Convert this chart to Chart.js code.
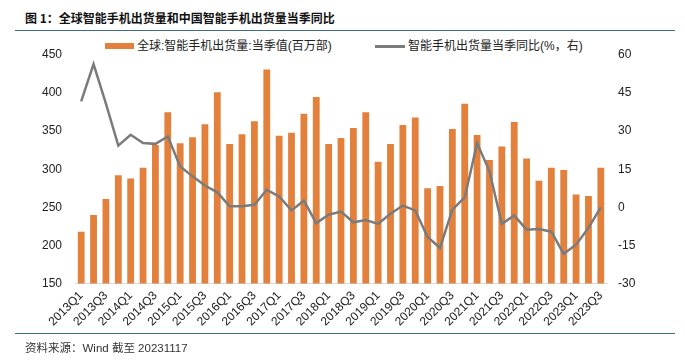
<!DOCTYPE html>
<html>
<head>
<meta charset="utf-8">
<script src="https://cdn.jsdelivr.net/npm/chart.js@4.4.0/dist/chart.umd.min.js"></script>
<style>
  html, body { margin: 0; padding: 0; background: #fff; }
  #wrap { position: relative; width: 685px; height: 364px; overflow: hidden; font-family: "Liberation Sans", "Noto Sans CJK SC", Arial, sans-serif; color: #222; }
  #c { position: absolute; left: 0; top: 0; }
  .title { position: absolute; left: 25px; top: 9px; font-size: 12px; font-weight: bold; color: #111; white-space: nowrap; font-family: "Noto Sans CJK SC", sans-serif; }
  .hline { position: absolute; left: 15px; width: 660px; height: 1px; background: #3d6f80; }
  .foot { position: absolute; left: 25px; top: 339px; font-size: 11.5px; color: #333; white-space: nowrap; }
  .leg { position: absolute; font-size: 12px; color: #222; white-space: nowrap; line-height: 14px; }
  .legbar { position: absolute; left: 105px; top: 43px; width: 29px; height: 6px; background: #E2803C; }
  .legline { position: absolute; left: 375px; top: 45px; width: 30px; height: 2.5px; background: #7b7b7b; }
</style>
</head>
<body>
<div id="wrap">
  <div class="title">图 1：全球智能手机出货量和中国智能手机出货量当季同比</div>
  <div class="hline" style="top:30px"></div>
  <div class="legbar"></div>
  <div class="leg" style="left:137px; top:39px;">全球:智能手机出货量:当季值(百万部)</div>
  <div class="legline"></div>
  <div class="leg" style="left:408px; top:39px;">智能手机出货量当季同比(%，右)</div>
  <canvas id="c" width="685" height="364"></canvas>
  <div class="hline" style="top:333px"></div>
  <div class="foot">资料来源：Wind 截至 20231117</div>
</div>
<script>
const quarters = [
  "2013Q1","2013Q2","2013Q3","2013Q4",
  "2014Q1","2014Q2","2014Q3","2014Q4",
  "2015Q1","2015Q2","2015Q3","2015Q4",
  "2016Q1","2016Q2","2016Q3","2016Q4",
  "2017Q1","2017Q2","2017Q3","2017Q4",
  "2018Q1","2018Q2","2018Q3","2018Q4",
  "2019Q1","2019Q2","2019Q3","2019Q4",
  "2020Q1","2020Q2","2020Q3","2020Q4",
  "2021Q1","2021Q2","2021Q3","2021Q4",
  "2022Q1","2022Q2","2022Q3","2022Q4",
  "2023Q1","2023Q2","2023Q3"
];
// 全球:智能手机出货量:当季值(百万部)
const globalShipments = [
  218, 240, 261, 292,
  288, 302, 332, 375,
  334, 342, 359, 401,
  333, 346, 363, 431,
  344, 348, 373, 395,
  333, 341, 354, 375,
  310, 333, 358, 368,
  275, 278, 353, 386,
  345, 312, 330, 362,
  314, 285, 302, 299,
  267, 265, 302
];
// 智能手机出货量当季同比(%，右)
const chinaYoY = [
  41.7, 56.4, 40.8, 24.3,
  28.6, 25.3, 25.0, 27.9,
  16.1, 12.2, 8.6, 5.9,
  0.4, 0.4, 1.0, 6.9,
  4.3, -1.2, 2.6, -6.2,
  -2.9, -1.7, -5.9, -5.0,
  -6.5, -2.5, 0.7, -1.2,
  -11.7, -16.0, -0.9, 3.9,
  25.3, 14.2, -6.5, -3.2,
  -8.8, -8.5, -9.6, -18.3,
  -14.7, -8.1, 0.0
];
const leftTicks = { min: 150, max: 450, step: 50 };
const rightTicks = { min: -30, max: 60, step: 15 };

const FONT = "'Liberation Sans', 'Noto Sans CJK SC', Arial, sans-serif";

new Chart(document.getElementById('c'), {
  type: 'bar',
  data: {
    labels: quarters,
    datasets: [
      {
        type: 'line',
        label: '智能手机出货量当季同比(%，右)',
        data: chinaYoY,
        yAxisID: 'y1',
        borderColor: '#7b7b7b',
        borderWidth: 2.5,
        pointRadius: 0,
        tension: 0,
        fill: false,
        order: 0
      },
      {
        type: 'bar',
        label: '全球:智能手机出货量:当季值(百万部)',
        data: globalShipments,
        yAxisID: 'y',
        backgroundColor: '#E2803C',
        categoryPercentage: 1.0,
        barPercentage: 0.55,
        order: 1
      }
    ]
  },
  options: {
    responsive: false,
    devicePixelRatio: 1,
    animation: false,
    layout: { padding: { top: 55, left: 0, right: 0, bottom: 0 } },
    plugins: { legend: { display: false }, tooltip: { enabled: false } },
    scales: {
      x: {
        grid: { display: false, drawTicks: false },
        border: { display: true, color: '#d9d9d9', width: 1 },
        ticks: {
          autoSkip: false,
          maxRotation: 45,
          minRotation: 45,
          padding: 5,
          color: '#222',
          font: { family: FONT, size: 12 },
          callback: function(v, i) { return i % 2 === 0 ? quarters[i] : ''; }
        },
        afterFit: function(s) { s.height = 80.5; }
      },
      y: {
        position: 'left',
        min: leftTicks.min,
        max: leftTicks.max,
        grid: { display: false, drawTicks: false },
        border: { display: false },
        ticks: { stepSize: leftTicks.step, padding: 13, color: '#222', font: { family: FONT, size: 12 } },
        afterFit: function(s) { s.width = 75; }
      },
      y1: {
        position: 'right',
        min: rightTicks.min,
        max: rightTicks.max,
        grid: { display: false, drawTicks: false },
        border: { display: false },
        ticks: { stepSize: rightTicks.step, padding: 11, color: '#222', font: { family: FONT, size: 12 } },
        afterFit: function(s) { s.width = 78; }
      }
    }
  }
});
</script>
</body>
</html>
